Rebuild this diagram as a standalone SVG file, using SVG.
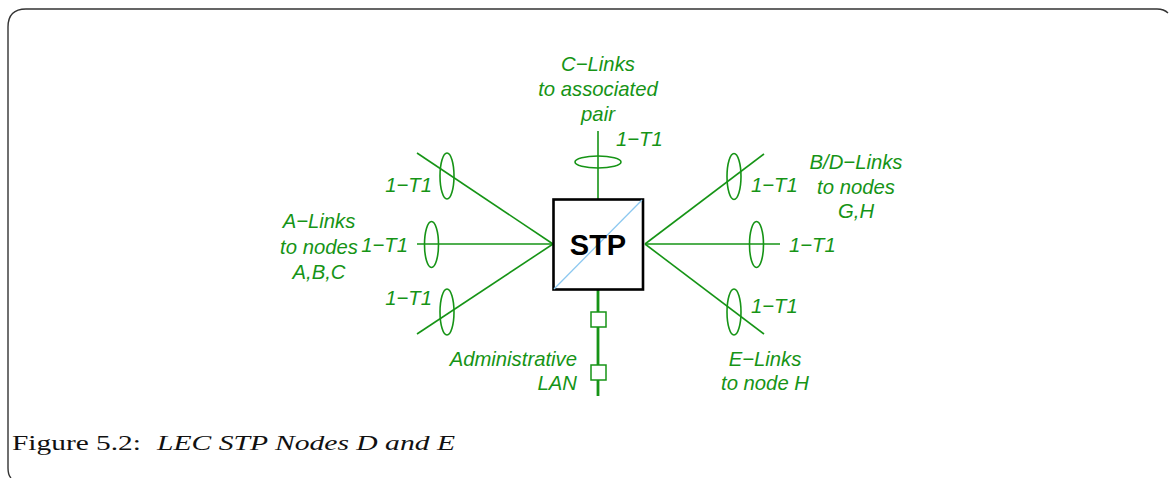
<svg xmlns="http://www.w3.org/2000/svg" width="1169" height="478" viewBox="0 0 1169 478">
  <style>
    .lnk { stroke: #169416; stroke-width: 1.6; fill: none; }
    .bund { stroke: #169416; stroke-width: 1.6; fill: none; }
    .lbl { font-family: "Liberation Sans", Arial, sans-serif; font-style: italic; font-size: 20.3px; fill: #169416; }
    .mid { text-anchor: middle; }
    .end { text-anchor: end; }
    .cap { font-family: "Liberation Serif", "Times New Roman", serif; font-size: 22px; fill: #111; }
  </style>
  <rect width="1169" height="478" fill="#fff"/>
  <!-- frame -->
  <path d="M 11 478 Q 8 475 8 468 L 8 27 Q 8 9 26 9 L 1157 9 Q 1164 9 1168 13" fill="none" stroke="#333" stroke-width="1.4"/>

  <!-- link bundles -->
  <g id="connectors">
    <!-- A-links -->
    <line class="lnk" x1="417" y1="153" x2="553" y2="244"/>
    <line class="lnk" x1="417" y1="244" x2="553" y2="244"/>
    <line class="lnk" x1="417" y1="334" x2="553" y2="244"/>
    <ellipse class="bund" cx="447" cy="176" rx="7" ry="23"/>
    <ellipse class="bund" cx="431.5" cy="244.5" rx="7" ry="23"/>
    <ellipse class="bund" cx="447" cy="312" rx="7" ry="23"/>
    <!-- B/D-links and E-links -->
    <line class="lnk" x1="645" y1="244" x2="764" y2="154"/>
    <line class="lnk" x1="645" y1="244" x2="780" y2="244"/>
    <line class="lnk" x1="645" y1="244" x2="764" y2="334"/>
    <ellipse class="bund" cx="734" cy="176.5" rx="7" ry="23"/>
    <ellipse class="bund" cx="756.5" cy="244.5" rx="7" ry="23"/>
    <ellipse class="bund" cx="734" cy="312" rx="7" ry="23"/>
    <!-- C-links -->
    <line class="lnk" x1="598" y1="131" x2="598" y2="199"/>
    <ellipse class="bund" cx="598" cy="162" rx="23" ry="6"/>
    <!-- administrative LAN -->
    <line x1="598" y1="290" x2="598" y2="396" stroke="#169416" stroke-width="2.8"/>
    <rect x="591" y="312" width="15" height="15" fill="#fff" stroke="#169416" stroke-width="1.5"/>
    <rect x="591" y="365" width="15" height="15" fill="#fff" stroke="#169416" stroke-width="1.5"/>
  </g>

  <!-- STP node -->
  <g id="stp">
    <rect x="553.5" y="199.5" width="89.5" height="90" fill="#fff" stroke="#000" stroke-width="2.6"/>
    <line x1="554" y1="289" x2="642" y2="200" stroke="#8cc8f0" stroke-width="1.3"/>
    <text x="598" y="255" text-anchor="middle" font-family="Liberation Sans, Arial, sans-serif" font-weight="bold" font-size="29" fill="#000">STP</text>
  </g>

  <!-- labels -->
  <g id="labels">
    <text class="lbl mid" x="598" y="71">C−Links</text>
    <text class="lbl mid" x="598" y="96">to associated</text>
    <text class="lbl mid" x="598" y="121">pair</text>
    <text class="lbl" x="616" y="146">1−T1</text>

    <text class="lbl mid" x="319" y="228">A−Links</text>
    <text class="lbl mid" x="319" y="254">to nodes</text>
    <text class="lbl mid" x="319" y="279">A,B,C</text>
    <text class="lbl end" x="432" y="192">1−T1</text>
    <text class="lbl end" x="408" y="252">1−T1</text>
    <text class="lbl end" x="432" y="305">1−T1</text>

    <text class="lbl mid" x="856" y="169">B/D−Links</text>
    <text class="lbl mid" x="856" y="194">to nodes</text>
    <text class="lbl mid" x="856" y="218">G,H</text>
    <text class="lbl" x="751" y="192">1−T1</text>
    <text class="lbl" x="789" y="252">1−T1</text>
    <text class="lbl" x="751" y="313">1−T1</text>

    <text class="lbl mid" x="765" y="366">E−Links</text>
    <text class="lbl mid" x="765" y="390">to node H</text>

    <text class="lbl end" x="577" y="366">Administrative</text>
    <text class="lbl end" x="577" y="390">LAN</text>
  </g>

  <!-- caption -->
  <text class="cap" x="12" y="450" textLength="129" lengthAdjust="spacingAndGlyphs">Figure 5.2:</text>
  <text class="cap" x="157" y="450" font-style="italic" textLength="298" lengthAdjust="spacingAndGlyphs">LEC STP Nodes D and E</text>
</svg>
